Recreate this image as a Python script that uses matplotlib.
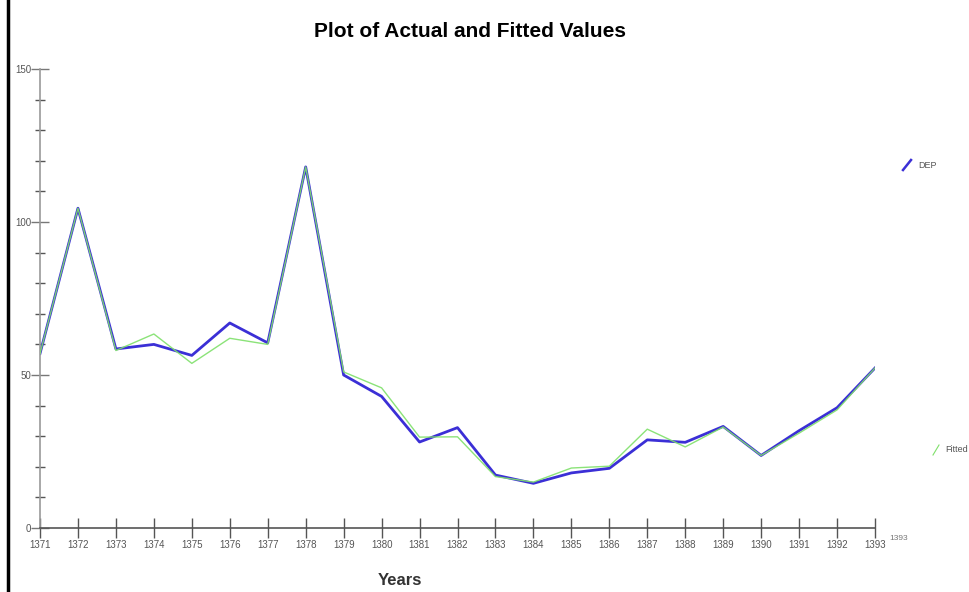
import matplotlib
matplotlib.use("Agg")
import matplotlib.pyplot as plt
from matplotlib.lines import Line2D
from matplotlib.ticker import MultipleLocator

plt.rcParams["font.family"] = ["Liberation Sans Narrow", "Liberation Sans", "DejaVu Sans"]

# años (calendario persa) y series
years = list(range(1371, 1394))
dep = [57, 104.5, 58.5, 60, 56.4, 67, 60.5, 118, 50, 43, 28.1, 32.8, 17.3,
       14.6, 18, 19.5, 28.8, 28, 33.2, 23.7, 31.8, 39.3, 52.3]
fitted = [57, 104.5, 58, 63.4, 53.8, 62, 60, 118, 51, 45.8, 29.7, 29.8, 16.8,
          15, 19.6, 20.2, 32.3, 26.5, 33, 23.7, 31, 38.6, 52.3]
y_ticks = [0, 50, 100, 150]

fig = plt.figure(figsize=(9.69, 5.92), dpi=100)
ax = fig.add_axes([40 / 969, 64 / 592, 835 / 969, 459 / 592])

ax.plot(years, dep, color="#3b2fd6", lw=2.0, zorder=2)
ax.plot(years, fitted, color="#7fe06a", lw=1.0, alpha=0.9, zorder=3)

ax.set_xlim(years[0], years[-1])
ax.set_ylim(0, 150)
ax.set_xticks(years, [str(y) for y in years])
ax.set_yticks(y_ticks, [str(v) for v in y_ticks])
ax.yaxis.set_minor_locator(MultipleLocator(10))

for s in ["top", "right"]:
    ax.spines[s].set_visible(False)
ax.spines["left"].set_color("#9a9a9a")
ax.spines["bottom"].set_color("#555555")
ax.spines["left"].set_linewidth(1.2)
ax.spines["bottom"].set_linewidth(1.2)

ax.tick_params(axis="x", direction="inout", length=14, width=1, color="#555555",
               labelsize=7, labelcolor="#555555", pad=2)
ax.tick_params(axis="y", which="major", direction="inout", length=13, width=1,
               color="#777777", labelsize=7, labelcolor="#555555", pad=0)
ax.tick_params(axis="y", which="minor", direction="inout", length=7, width=1,
               color="#555555")

# etiqueta duplicada que aparece junto al último año
ax.text(1.017, -0.022, "1393", transform=ax.transAxes, fontsize=6,
        color="#777777", ha="left", va="center")

fig.text(0.485, 0.947, "Plot of Actual and Fitted Values", ha="center", va="center",
         fontsize=15, fontweight="bold")
fig.text(0.413, 0.02, "Years", ha="center", va="center", fontsize=12,
         fontweight="bold", color="#333333")

# leyenda a la derecha
fig.add_artist(Line2D([903 / 969, 911 / 969], [1 - 170 / 592, 1 - 160 / 592],
                      color="#3b2fd6", lw=1.8))
fig.text(918 / 969, 1 - 165 / 592, "DEP", fontsize=6.5, color="#555555", va="center")
fig.add_artist(Line2D([933 / 969, 939 / 969], [1 - 455 / 592, 1 - 445 / 592],
                      color="#7fe06a", lw=0.8))
fig.text(945 / 969, 1 - 450 / 592, "Fitted", fontsize=6.5, color="#555555", va="center")

# borde izquierdo de la captura
fig.add_artist(Line2D([8 / 969, 8 / 969], [0, 1], color="black", lw=2.5))

fig.savefig("out.png", dpi=100)
